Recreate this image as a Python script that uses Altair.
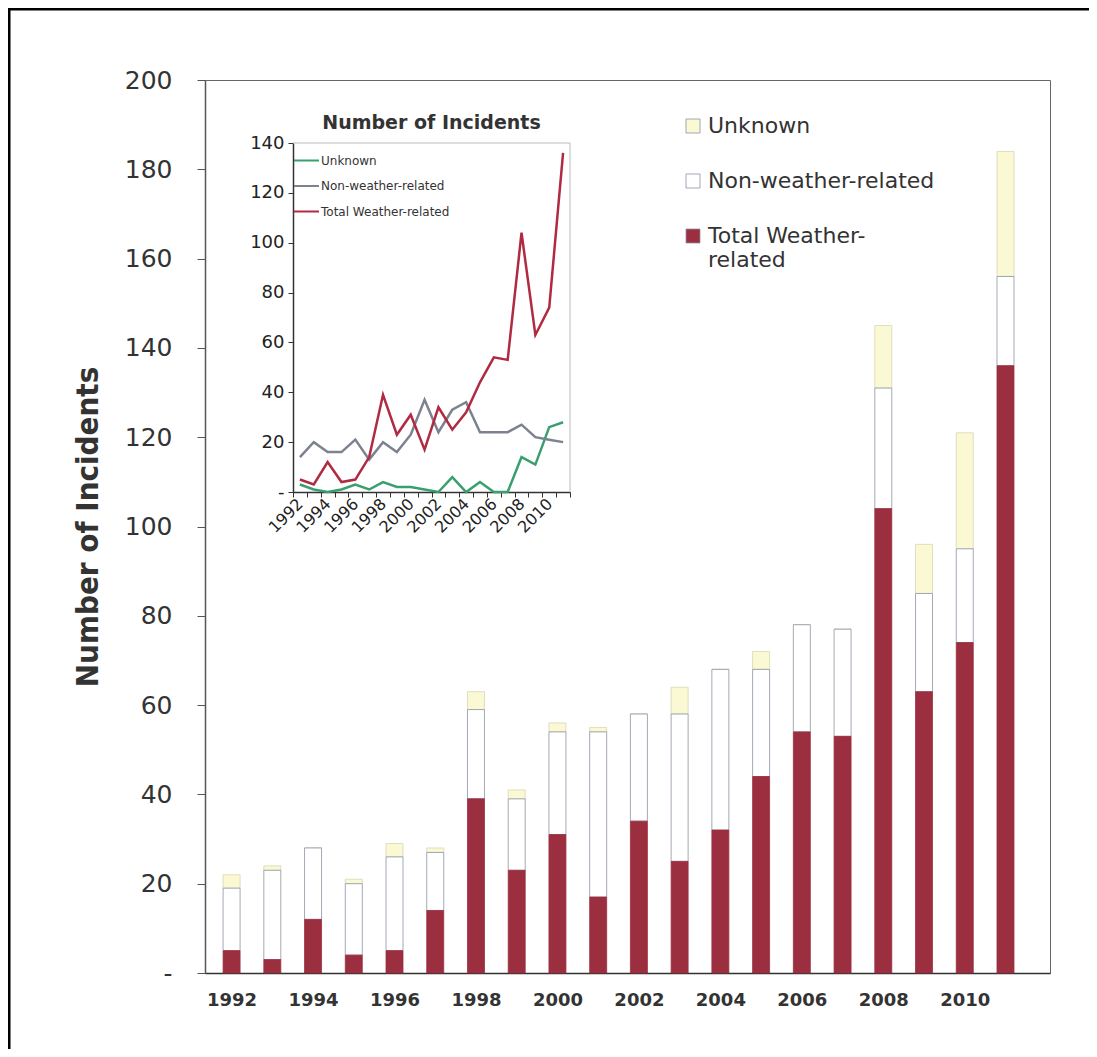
import altair as alt
import pandas as pd

years = list(range(1992, 2012))
weather = [5, 3, 12, 4, 5, 14, 39, 23, 31, 17, 34, 25, 32, 44, 54, 53, 104, 63, 74, 136]
nonweather = [14, 20, 16, 16, 21, 13, 20, 16, 23, 37, 24, 33, 36, 24, 24, 24, 27, 22, 21, 20]
unknown = [3, 1, 0, 1, 3, 1, 4, 2, 2, 1, 0, 6, 0, 4, 0, 0, 14, 11, 26, 28]

series_names = ["Unknown", "Non-weather-related", "Total Weather-related"]
stack_rank = {"Total Weather-related": 0, "Non-weather-related": 1, "Unknown": 2}
main_y_ticks = list(range(0, 201, 20))
main_x_labels = list(range(1992, 2011, 2))
inset_y_ticks = list(range(0, 141, 20))
inset_x_ticks = [1991.5 + i for i in range(21)]
inset_title = "Number of Incidents"
y_title = "Number of Incidents"

rows = []
for i, yr in enumerate(years):
    for name, vals in zip(series_names, [unknown, nonweather, weather]):
        rows.append({"year": yr, "series": name, "value": vals[i], "rank": stack_rank[name]})
df = pd.DataFrame(rows)

bar_fill = alt.Scale(domain=series_names, range=["#fbf9d4", "#ffffff", "#9b2f3f"])
bar_stroke = alt.Scale(domain=series_names, range=["#d9d6b4", "#8b93a3", "#9b2f3f"])
line_color = alt.Scale(domain=series_names, range=["#3a9f6e", "#7d828f", "#b02a42"])

NB = "\u00a0"

bars = alt.Chart(df).mark_bar(size=17, strokeWidth=0.8).encode(
    x=alt.X("year:Q",
            scale=alt.Scale(domain=[1991.47, 2011.97], nice=False, zero=False),
            axis=alt.Axis(orient="bottom", values=main_x_labels, format="d", ticks=False,
                          labelFontSize=18, labelFontWeight="bold", labelFont="DejaVu Sans",
                          labelColor="#333", labelPadding=18, domainColor="#333", domainWidth=1.5,
                          title=None, grid=False, labelFlush=False, labelOverlap=False)),
    y=alt.Y("value:Q", stack="zero",
            scale=alt.Scale(domain=[0, 200], nice=False),
            axis=alt.Axis(orient="left", values=main_y_ticks,
                          labelExpr="datum.value == 0 ? '-" + NB * 3 + "' : datum.label",
                          labelFontSize=25, labelFont="DejaVu Sans", labelColor="#333",
                          tickSize=8, tickColor="#555", domainColor="#555", domainWidth=1.5,
                          labelPadding=25, title=y_title,
                          titleFont="DejaVu Sans Condensed",
                          titleFontSize=31, titleFontWeight="bold", titleColor="#333",
                          titlePadding=20, grid=False, labelFlush=False, labelOverlap=False)),
    color=alt.Color("series:N", scale=bar_fill,
                    legend=alt.Legend(orient="none", legendX=477, legendY=35, title=None,
                                      symbolType="square", symbolSize=196,
                                      symbolStrokeColor="#8b93a3", symbolStrokeWidth=0.8,
                                      labelFontSize=22, labelFont="DejaVu Sans", labelColor="#333",
                                      rowPadding=33, padding=0, labelOffset=4, labelLimit=400,
                                      labelExpr="datum.label == 'Total Weather-related' ? ['Total Weather-', 'related'] : datum.label")),
    stroke=alt.Stroke("series:N", scale=bar_stroke, legend=None),
    order=alt.Order("rank:Q"),
)

frame_df = pd.DataFrame({"k": [0]})
frame_left = alt.Chart(frame_df).mark_rule(color="black", strokeWidth=3).encode(
    x=alt.value(-196), y=alt.value(-71), y2=alt.value(975))
frame_top = alt.Chart(frame_df).mark_rule(color="black", strokeWidth=3).encode(
    x=alt.value(-197), x2=alt.value(890), y=alt.value(-71))

main = alt.layer(bars, frame_left, frame_top)

inset_x = alt.Scale(domain=[1991.5, 2011.5], range=[88, 365], nice=False, zero=False)
inset_y = alt.Scale(domain=[0, 140], range=[412, 63], nice=False)

lines = alt.Chart(df).mark_line(strokeWidth=2.5).encode(
    x=alt.X("year:Q", scale=inset_x,
            axis=alt.Axis(orient="bottom", offset=-481, values=inset_x_ticks,
                          labelExpr="(datum.value + 0.5) % 2 == 0 && datum.value < 2011 ? format(datum.value + 0.5, 'd') : ''",
                          labelAngle=315, labelAlign="right", labelBaseline="middle",
                          labelOffset=7, labelPadding=4, labelFontSize=16, labelFont="DejaVu Sans",
                          labelColor="#222", tickSize=5, tickColor="#333", domainColor="#333",
                          domainWidth=1.5, title=None, grid=False, labelFlush=False,
                          labelOverlap=False, labelBound=False)),
    y=alt.Y("value:Q", scale=inset_y,
            axis=alt.Axis(orient="left", offset=-88, values=inset_y_ticks,
                          labelExpr="datum.value == 0 ? '-" + NB * 4 + "' : datum.label",
                          labelFontSize=18, labelFont="DejaVu Sans", labelColor="#222",
                          tickSize=5, tickColor="#333", domainColor="#333", domainWidth=1.5,
                          labelPadding=4, title=None, grid=False, labelFlush=False,
                          labelOverlap=False)),
    color=alt.Color("series:N", scale=line_color,
                    legend=alt.Legend(orient="none", legendX=88, legendY=67, title=None,
                                      symbolType="stroke", symbolSize=625, symbolStrokeWidth=2,
                                      labelFontSize=12, labelFont="DejaVu Sans", labelColor="#333",
                                      rowPadding=5.5, padding=0, labelOffset=1, labelLimit=300)),
)

inset_top = alt.Chart(frame_df).mark_rule(color="#bbbbbb", strokeWidth=1).encode(
    x=alt.datum(1991.5), x2=alt.datum(2011.5), y=alt.datum(140))
inset_right = alt.Chart(frame_df).mark_rule(color="#bbbbbb", strokeWidth=1).encode(
    x=alt.datum(2011.5), y=alt.datum(0), y2=alt.datum(140))
inset_title_mark = alt.Chart(frame_df).mark_text(
    text=inset_title, fontSize=19, fontWeight="bold", font="DejaVu Sans",
    color="#333", dy=-20, align="center").encode(
    x=alt.datum(2001.5), y=alt.datum(140))

inset = alt.layer(lines, inset_top, inset_right, inset_title_mark)

chart = alt.layer(main, inset).resolve_scale(
    x="independent", y="independent", color="independent"
).properties(
    width=845, height=893,
    autosize=alt.AutoSizeParams(type="none"),
    padding={"left": 197, "top": 72, "right": 39, "bottom": 76},
    background="white",
).configure_view(stroke="#666", strokeWidth=1).configure_axis(grid=False)

chart.save("out.html", embed_options={"renderer": "svg", "actions": False})
